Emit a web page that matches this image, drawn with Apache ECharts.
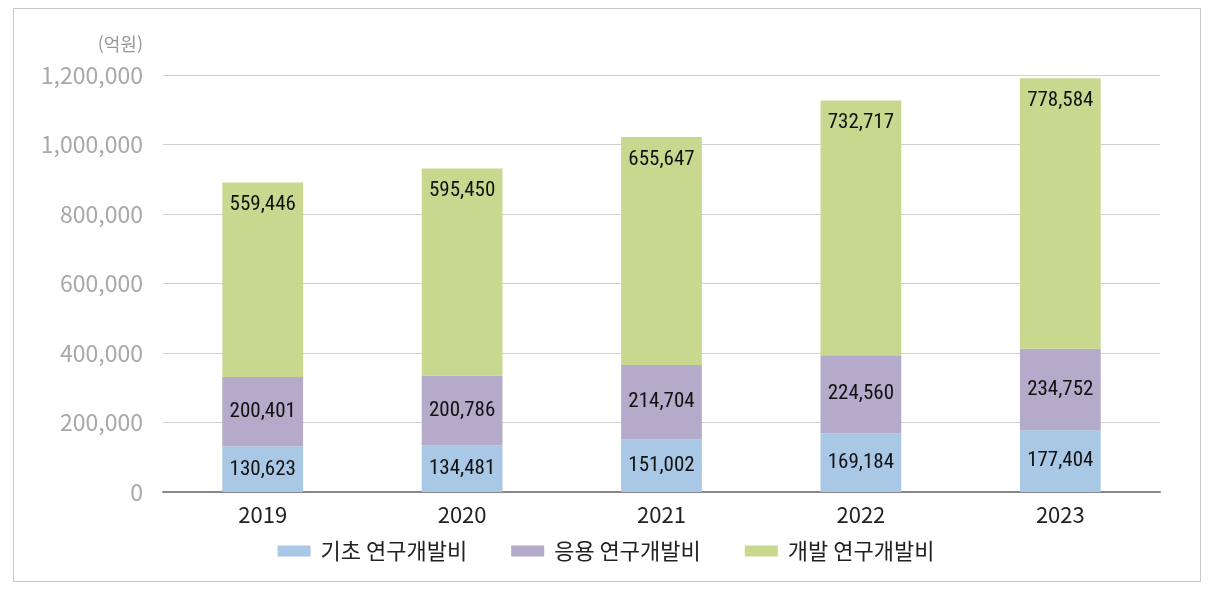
<!DOCTYPE html>
<html lang="ko">
<head>
<meta charset="utf-8" />
<title>연구개발비 추이</title>
<script src="https://cdn.jsdelivr.net/npm/echarts@6/dist/echarts.min.js"></script>
<style>
  html, body { margin: 0; padding: 0; background: #fff; }
  #frame { position: absolute; left: 13px; top: 8px; width: 1188px; height: 574px;
           border: 1px solid #c8c8c8; box-sizing: border-box; }
  #chart { position: absolute; left: 0; top: 0; width: 1212px; height: 596px; }
</style>
</head>
<body>
<div id="frame"></div>
<div id="chart"></div>
<script>
// 연도
const years = ['2019', '2020', '2021', '2022', '2023'];
// 기초 / 응용 / 개발 연구개발비 (억원)
const basicRD = [130623, 134481, 151002, 169184, 177404];
const appliedRD = [200401, 200786, 214704, 224560, 234752];
const devRD = [559446, 595450, 655647, 732717, 778584];
const seriesNames = ['기초 연구개발비', '응용 연구개발비', '개발 연구개발비'];
const yTicks = { min: 0, max: 1200000, interval: 200000 };

const chart = echarts.init(document.getElementById('chart'));
const font = '"Noto Sans CJK KR", "Noto Sans", sans-serif';
const numFont = '"Liberation Sans Narrow", "Roboto Condensed", "Liberation Sans", sans-serif';
const fmt = v => v.toLocaleString('en-US');

function barLabel(pos, dist) {
  return {
    show: true,
    position: pos,
    distance: dist,
    color: '#111',
    fontFamily: numFont,
    fontSize: 21,
    formatter: p => fmt(p.value)
  };
}

chart.setOption({
  animation: false,
  textStyle: { fontFamily: font },
  grid: { left: 163, right: 52, top: 75, bottom: 104 },
  legend: {
    bottom: 29,
    left: 'center',
    itemWidth: 33,
    itemHeight: 11,
    itemGap: 44,
    icon: 'rect',
    textStyle: { fontSize: 22, color: '#222', fontFamily: font, padding: [0, 0, 0, 5] },
    data: seriesNames
  },
  xAxis: {
    type: 'category',
    data: years,
    axisLine: { lineStyle: { color: '#888', width: 2 } },
    axisTick: { show: false },
    axisLabel: { fontSize: 22, color: '#222', margin: 12, fontFamily: font }
  },
  yAxis: {
    type: 'value',
    min: yTicks.min,
    max: yTicks.max,
    interval: yTicks.interval,
    name: '(억원)',
    nameLocation: 'end',
    nameGap: 22,
    nameTextStyle: { color: '#999', fontSize: 18, align: 'right', padding: [0, 20, 0, 0], fontFamily: font },
    axisLine: { show: false },
    axisTick: { show: false },
    splitLine: { lineStyle: { color: '#cfcfcf', width: 1 } },
    axisLabel: { fontSize: 23, color: '#a8a8a8', margin: 20, formatter: v => fmt(v), fontFamily: font }
  },
  series: [
    {
      name: seriesNames[0], type: 'bar', stack: 'rd', barWidth: '40.5%',
      itemStyle: { color: '#a9c8e6' },
      label: barLabel('inside', 0),
      data: basicRD
    },
    {
      name: seriesNames[1], type: 'bar', stack: 'rd', barWidth: '40.5%',
      itemStyle: { color: '#b4aac9' },
      label: barLabel('inside', 0),
      data: appliedRD
    },
    {
      name: seriesNames[2], type: 'bar', stack: 'rd', barWidth: '40.5%',
      itemStyle: { color: '#c8d98f' },
      label: barLabel('insideTop', 12),
      data: devRD
    }
  ]
});

window.onresize = function () { chart.resize(); };
</script>
</body>
</html>
